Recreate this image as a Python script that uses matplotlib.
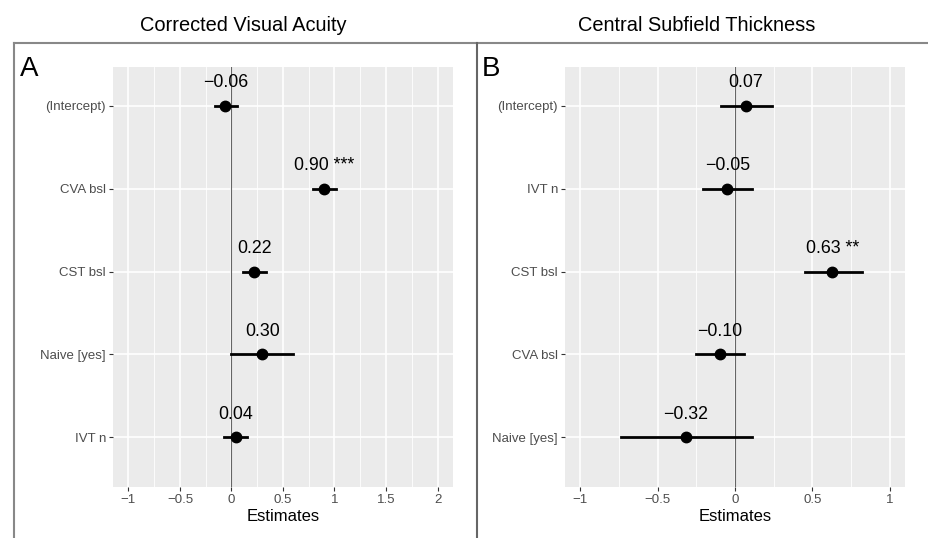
from matplotlib import pyplot as plt
from matplotlib.lines import Line2D
from matplotlib.ticker import MultipleLocator

# Panel A: Corrected Visual Acuity
terms_a = ['(Intercept)', 'CVA bsl', 'CST bsl', 'Naive [yes]', 'IVT n']
est_a = [-0.06, 0.90, 0.22, 0.30, 0.04]
lo_a = [-0.16, 0.79, 0.11, 0.00, -0.07]
hi_a = [0.05, 1.01, 0.34, 0.60, 0.15]
lab_a = ['\u22120.06', '0.90 ***', '0.22', '0.30', '0.04']
ticks_a = [-1, -0.5, 0, 0.5, 1, 1.5, 2]
ticklab_a = ['\u22121', '\u22120.5', '0', '0.5', '1', '1.5', '2']

# Panel B: Central Subfield Thickness
terms_b = ['(Intercept)', 'IVT n', 'CST bsl', 'CVA bsl', 'Naive [yes]']
est_b = [0.07, -0.05, 0.63, -0.10, -0.32]
lo_b = [-0.09, -0.21, 0.45, -0.25, -0.74]
hi_b = [0.24, 0.11, 0.82, 0.06, 0.11]
lab_b = ['0.07', '\u22120.05', '0.63 **', '\u22120.10', '\u22120.32']
ticks_b = [-1, -0.5, 0, 0.5, 1]
ticklab_b = ['\u22121', '\u22120.5', '0', '0.5', '1']

plt.rcParams['font.family'] = ['Liberation Sans', 'DejaVu Sans']

fig = plt.figure(figsize=(9.29, 5.38), dpi=100)


def panel(rect, terms, est, lo, hi, labs, ticks, ticklabs, xlim):
    ax = fig.add_axes(rect)
    ax.set_facecolor('#EBEBEB')
    for s in ax.spines.values():
        s.set_visible(False)
    ypos = list(range(len(terms)))
    ax.set_xlim(*xlim)
    ax.set_ylim(4.6, -0.47)
    ax.set_xticks(ticks)
    ax.set_xticklabels(ticklabs)
    ax.xaxis.set_minor_locator(MultipleLocator(0.25))
    ax.set_yticks(ypos)
    ax.set_yticklabels(terms)
    ax.grid(True, which='major', color='white', lw=1.2)
    ax.grid(True, which='minor', axis='x', color='white', lw=0.6)
    ax.set_axisbelow(True)
    ax.tick_params(which='major', length=3, width=0.8, color='#333333',
                   labelsize=9.5, labelcolor='#4D4D4D', pad=2)
    ax.tick_params(which='minor', length=0)
    ax.axvline(0, color='#666666', lw=0.8, zorder=1)
    for y, e, l, h, t in zip(ypos, est, lo, hi, labs):
        ax.plot([l, h], [y, y], color='black', lw=2, zorder=3)
        ax.plot(e, y, 'o', color='black', ms=7.5, zorder=4)
        ax.text(e, y - 0.28, t, ha='center', va='center', fontsize=12.8, zorder=5)
    ax.set_xlabel('Estimates', fontsize=12, labelpad=2)
    return ax


panel([0.1216, 0.0948, 0.366, 0.7807], terms_a, est_a, lo_a, hi_a, lab_a,
      ticks_a, ticklab_a, (-1.15, 2.15))
panel([0.6082, 0.0948, 0.366, 0.7807], terms_b, est_b, lo_b, hi_b, lab_b,
      ticks_b, ticklab_b, (-1.1, 1.1))

# borders around the panels
fig.add_artist(Line2D([0.0151, 1.0], [0.920, 0.920], color='#888888', lw=1.5))
fig.add_artist(Line2D([0.0151, 0.0151], [0.0, 0.920], color='#888888', lw=1.5))
fig.add_artist(Line2D([0.5135, 0.5135], [0.0, 0.920], color='#666666', lw=1.5))

fig.text(0.2616, 0.9535, 'Corrected Visual Acuity', ha='center', va='center', fontsize=14.4)
fig.text(0.750, 0.9535, 'Central Subfield Thickness', ha='center', va='center', fontsize=14.4)
fig.text(0.021, 0.895, 'A', ha='left', va='top', fontsize=20)
fig.text(0.519, 0.895, 'B', ha='left', va='top', fontsize=20)

plt.savefig('out.png', dpi=100)
